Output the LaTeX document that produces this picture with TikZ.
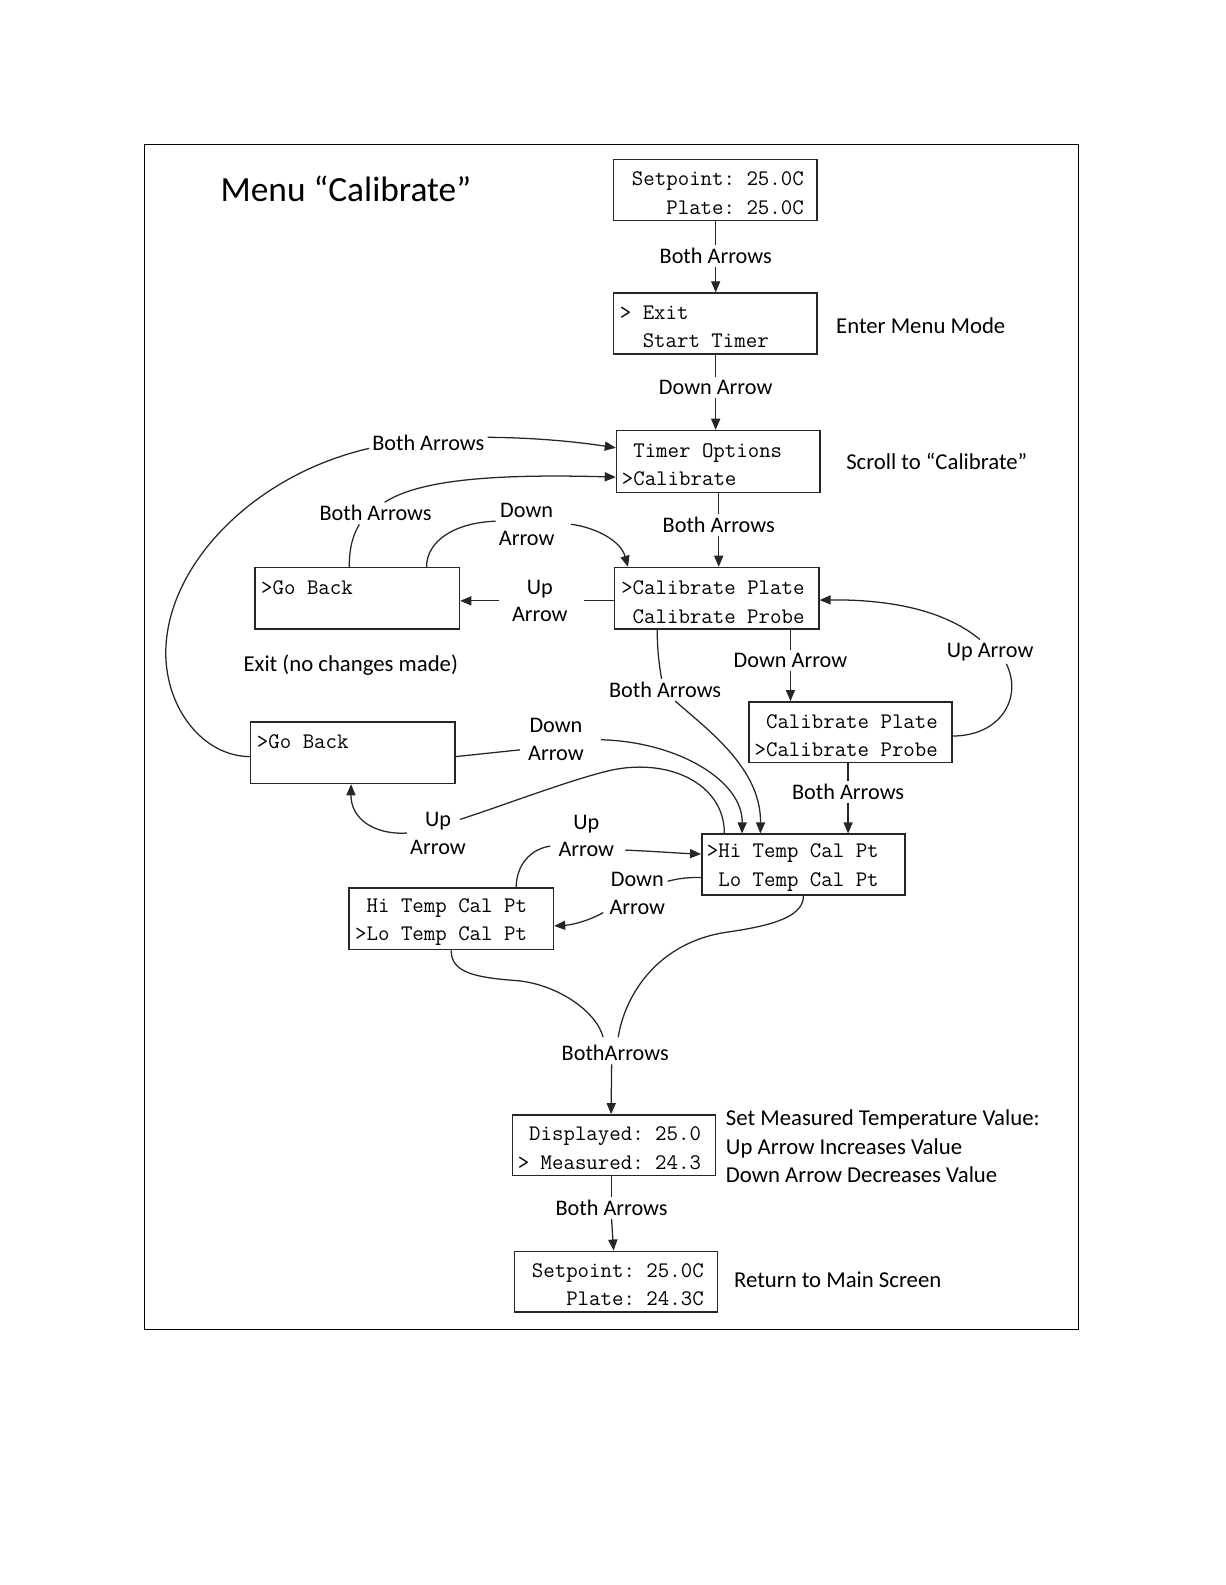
\documentclass[tikz,border=0pt]{standalone}
\usepackage{fontspec}
\setmainfont{Carlito}
\usetikzlibrary{arrows.meta}
\newcommand\mysp{\phantom{x}}
\begin{document}
\begin{tikzpicture}[x=1pt,y=-1pt,
  box/.style={draw=black!85, line width=1.5pt, minimum width=201pt, minimum height=60pt, inner sep=0pt},
  mono/.style={font=\ttfamily\fontsize{22}{28}\selectfont\frenchspacing, align=left, anchor=west, inner sep=0pt},
  lbl/.style={font=\fontsize{22}{27.5}\selectfont, align=center, inner sep=3pt},
  side/.style={font=\fontsize{22.5}{28}\selectfont, align=left, anchor=west, inner sep=0pt},
  con/.style={draw=black!85, line width=1.25pt},
  arr/.style={con, -{Triangle[length=11pt,width=9pt]}},
]
\useasboundingbox (0,0) rectangle (1212,1568);
\draw[line width=1.2pt] (143,143) rectangle (1067,1315);

\node[anchor=west, inner sep=0pt, font=\fontsize{35}{42}\selectfont] (title) at (218,187) {Menu “Calibrate”};

% boxes
\node[box] (b1) at (707.5,188) {};
\node[mono] (b1t) at (625,191) {Setpoint: 25.0C\\\mysp\mysp\mysp Plate: 25.0C};
\node[box] (b2) at (707.5,320) {};
\node[mono] (b2t) at (613,323.5) {> Exit\\\mysp\mysp Start Timer};
\node[box, minimum height=61pt] (b3) at (710.5,456.5) {};
\node[mono] (b3t) at (615,460) {\mysp Timer Options\\>Calibrate};
\node[box, minimum width=202pt, minimum height=61pt] (b4) at (709,592) {};
\node[mono] (b4t) at (614.4,595.7) {>Calibrate Plate\\\mysp Calibrate Probe};
\node[box, minimum width=202pt, minimum height=61pt] (g1) at (353.5,592) {};
\node[mono] (g1t) at (258.2,581.4) {>Go Back};
\node[box] (b5) at (841.4,724.4) {};
\node[mono] (b5t) at (746.3,727.7) {\mysp Calibrate Plate\\>Calibrate Probe};
\node[box, minimum width=202pt, minimum height=61pt] (g2) at (349,744.5) {};
\node[mono] (g2t) at (254,733.8) {>Go Back};
\node[box] (hi) at (794.8,855.3) {};
\node[mono] (hit) at (699.1,858.2) {>Hi Temp Cal Pt\\\mysp Lo Temp Cal Pt};
\node[box, minimum width=202pt, minimum height=61pt] (lo) at (446.4,909) {};
\node[mono] (lot) at (351.2,912.3) {\mysp Hi Temp Cal Pt\\>Lo Temp Cal Pt};
\node[box] (disp) at (607.5,1133) {};
\node[mono] (dispt) at (512,1136) {\mysp Displayed: 25.0\\> Measured: 24.3};
\node[box] (fin) at (609.5,1268) {};
\node[mono] (fint) at (526,1271) {Setpoint: 25.0C\\\mysp\mysp\mysp Plate: 24.3C};

% labels
\node[lbl] (l1) at (708,253) {Both Arrows};
\node[lbl] (l2) at (708,383) {Down Arrow};
\node[lbl] (l3) at (711,519) {Both Arrows};
\node[side] (s1) at (827,322) {Enter Menu Mode};
\node[side] (s2) at (837,456) {Scroll to “Calibrate”};
\node[lbl] (ba1) at (423.7,438.6) {Both Arrows};
\node[lbl] (ba2) at (371.5,507.8) {Both Arrows};
\node[lbl] (da1) at (521,518.6) {Down\\Arrow};
\node[lbl] (ua1) at (534,594.4) {Up\\Arrow};
\node[side, anchor=center] (s3) at (347,658) {Exit (no changes made)};
\node[lbl] (da2) at (782,653) {Down Arrow};
\node[lbl] (ba3) at (658,682.6) {Both Arrows};
\node[lbl] (ua2) at (979.5,644.7) {Up Arrow};
\node[lbl] (da3) at (550,731.8) {Down\\Arrow};
\node[lbl] (ba4) at (839,783.2) {Both Arrows};
\node[lbl] (ua3) at (433.3,824.1) {Up\\Arrow};
\node[lbl] (ua4) at (580,827) {Up\\Arrow};
\node[lbl] (da4) at (630.5,883.8) {Down\\Arrow};
\node[lbl] (ba5) at (608.6,1042) {BothArrows};
\node[lbl] (ba6) at (605,1195) {Both Arrows};
\node[side] (s4) at (718,1134) {Set Measured Temperature Value:\\Up Arrow Increases Value\\Down Arrow Decreases Value};
\node[side] (s5) at (726,1266) {Return to Main Screen};

% main column
\draw[con] (l1.north |- b1.south) -- (l1.north);
\draw[arr] (l1.south) -- (l1.south |- b2.north);
\draw[con] (l2.north |- b2.south) -- (l2.north);
\draw[arr] (l2.south) -- (l2.south |- b3.north);
\draw[con] (l3.north |- b3.south) -- (l3.north);
\draw[arr] (l3.south) -- (l3.south |- b4.north);

% big loop from Go Back 2
\draw[con] ([yshift=-4pt]g2.west) .. controls (200,748) and (164,700) .. (164,646)
  .. controls (164,560) and (250,470) .. ([yshift=-5pt]ba1.west);
\draw[arr] ([yshift=6pt]ba1.east) .. controls (530,433) and (570,437) .. ([yshift=13.5pt]b3.west);

% Go Back 1 -> Calibrate
\draw[con] ([xshift=-8pt]g1.north) .. controls (345.5,540) and (350,528) .. ([xshift=-16pt]ba2.south);
\draw[arr] ([xshift=9pt]ba2.north) .. controls (410,478) and (470,468) .. ([yshift=-15.5pt]b3.west);

% Go Back 1 -> Calibrate Plate
\draw[con] ([xshift=68.5pt]g1.north) .. controls (422,535) and (450,517) .. ([yshift=3pt]da1.west);
\draw[arr] ([xshift=13pt]da1.east) .. controls (590,522) and (614,535) .. ([xshift=14pt]b4.north west);

% Calibrate Plate -> Go Back 1
\draw[con] (b4.west |- ua1.east) -- ([xshift=13pt]ua1.east);
\draw[arr] ([xshift=-10pt]ua1.west) -- (ua1.west -| g1.east);

% Calibrate Plate -> Calibrate Probe
\draw[con] (da2.north |- b4.south) -- (da2.north);
\draw[arr] (da2.south) -- (da2.south |- b5.north);

% Calibrate Probe -> Calibrate Plate (Up)
\draw[con] ([yshift=-3.7pt]b5.east) .. controls (990,728) and (1012,690) .. ([xshift=16pt]ua2.south);
\draw[arr] ([xshift=-10pt]ua2.north) .. controls (930,600) and (870,593) .. ([yshift=-1.6pt]b4.east);

% Calibrate Plate -> Hi Temp
\draw[con] ([xshift=43pt]b4.south west) .. controls (650,640) and (652,658) .. ([xshift=-3.5pt]ba3.north);
\draw[arr] ([xshift=10pt]ba3.south) .. controls (700,722) and (753,760) .. ([xshift=58.7pt]hi.north west);

% Go Back 2 -> Hi Temp
\draw[con] ([yshift=-4pt]g2.east) -- ([xshift=-5pt,yshift=-10pt]da3.west);
\draw[arr] ([xshift=14pt]da3.east) .. controls (672,734) and (735,773) .. ([xshift=40.5pt]hi.north west);

% Calibrate Probe -> Hi Temp
\draw[con] (ba4.north |- b5.south) -- (ba4.north);
\draw[arr] (ba4.south) -- (ba4.south |- hi.north);

% Hi Temp -> Go Back 2 (Up)
\draw[arr] (ua3.west) .. controls (370,826) and (347,810) .. ([xshift=-1.7pt]g2.south);
\draw[con] ([xshift=22pt,yshift=13.5pt]ua3.center) .. controls (500,796) and (560,773) .. (600,763)
  .. controls (660,748) and (717,775) .. ([xshift=23pt]hi.north west);

% Lo Temp -> Hi Temp (Up)
\draw[con] ([xshift=166pt]lo.north west) .. controls (511,855) and (525,840) .. ([xshift=-5pt,yshift=-10pt]ua4.west);
\draw[arr] ([xshift=8pt,yshift=-14pt]ua4.east) .. controls (645,842) and (670,844) .. ([yshift=10.4pt]hi.west);

% Hi Temp -> Lo Temp (Down)
\draw[con] ([yshift=-12.7pt]hi.west) .. controls (675,868) and (668,870) .. ([xshift=30pt,yshift=12pt]da4.center);
\draw[arr] ([xshift=-3pt,yshift=-19pt]da4.west) .. controls (580,912) and (565,915) .. ([yshift=-7pt]lo.east);

% Hi/Lo Temp -> Displayed
\draw[con] (lo.south) .. controls (446,962) and (470,967) .. (510,970)
  .. controls (550,973) and (590,1000) .. ([xshift=-12pt,yshift=5pt]ba5.north);
\draw[con] (hi.south) .. controls (795,905) and (770,915) .. (720,922)
  .. controls (650,932) and (618,985) .. ([xshift=3pt,yshift=5pt]ba5.north);
\draw[arr] ([xshift=-3.5pt]ba5.south) -- ([xshift=-3pt]disp.north);

% Displayed -> final
\draw[con] (ba6.north |- disp.south) -- (ba6.north);
\draw[arr] (ba6.south) -- ([xshift=-2.5pt]fin.north);
\end{tikzpicture}
\end{document}
